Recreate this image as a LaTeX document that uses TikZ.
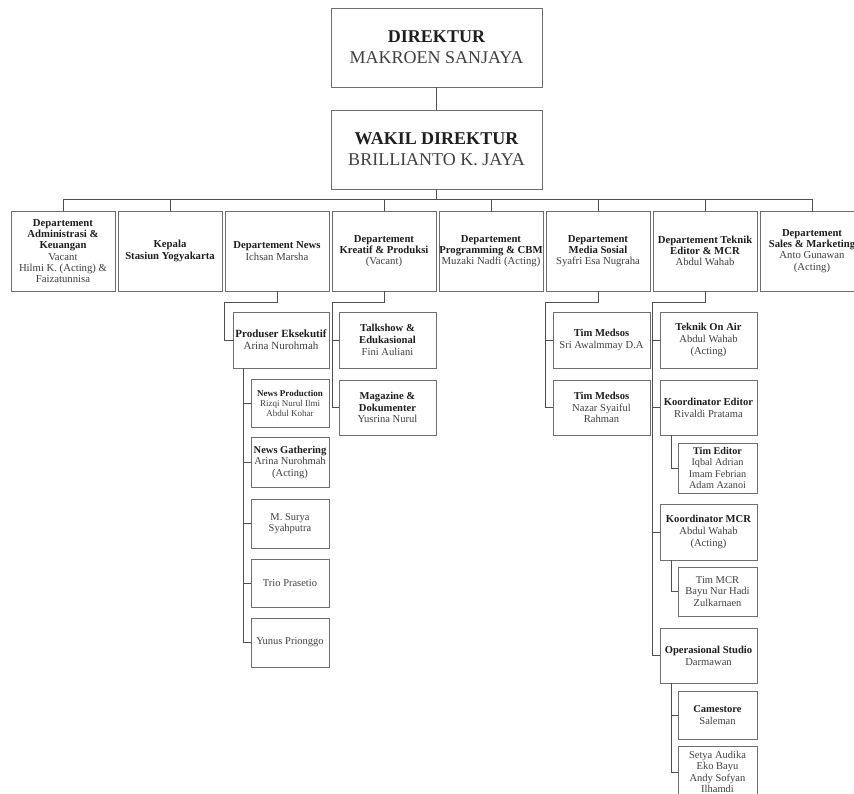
\documentclass[tikz,border=0pt]{standalone}
\usepackage{fontspec}
\setmainfont{Liberation Serif}
\usetikzlibrary{calc}
\definecolor{boxline}{HTML}{6E6E6E}
\definecolor{linkline}{HTML}{505050}
\definecolor{txtdark}{HTML}{1E1E1E}
\definecolor{txtname}{HTML}{404040}
\newcommand{\ttl}[1]{{\bfseries\color{txtdark}#1}}

\begin{document}
\begin{tikzpicture}[x=1pt,y=-1pt,
  box/.style={draw=boxline, line width=0.9pt, fill=white, align=center,
    inner sep=0pt, text=txtname},
  bigbox/.style={box, minimum width=211pt, minimum height=79pt,
    font=\fontsize{18}{21}\selectfont},
  dept/.style={box, minimum width=104pt, minimum height=80pt,
    font=\fontsize{10.7}{11.2}\selectfont},
  unit/.style={box, minimum width=97pt, minimum height=56pt,
    font=\fontsize{10.6}{11.8}\selectfont},
  member/.style={box, minimum width=79pt, minimum height=49pt,
    font=\fontsize{10.5}{11.5}\selectfont},
  link/.style={draw=linkline, line width=0.8pt}]

\useasboundingbox (0,0) rectangle (854,794);
\clip (0,0) rectangle (854,794);

% top management
\node[bigbox] (dir) at (436.5,47.5) {\ttl{DIREKTUR}\\MAKROEN SANJAYA};
\node[bigbox] (wakil) at (436.5,149.5) {\ttl{WAKIL DIREKTUR}\\BRILLIANTO K. JAYA};

% departments
\node[dept] (d1) at (63,251) {\ttl{Departement}\\\ttl{Administrasi \&}\\\ttl{Keuangan}\\Vacant\\Hilmi K. (Acting) \&\\Faizatunnisa};
\node[dept] (d2) at (170,251) {\ttl{Kepala}\\\ttl{Stasiun Yogyakarta}};
\node[dept] (d3) at (277,251) {\ttl{Departement News}\\Ichsan Marsha};
\node[dept] (d4) at (384,251) {\ttl{Departement}\\\ttl{Kreatif \& Produksi}\\(Vacant)};
\node[dept] (d5) at (491,251) {\ttl{Departement}\\\ttl{Programming \& CBM}\\Muzaki Nadfi (Acting)};
\node[dept] (d6) at (598,251) {\ttl{Departement}\\\ttl{Media Sosial}\\Syafri Esa Nugraha};
\node[dept] (d7) at (705,251) {\ttl{Departement Teknik}\\\ttl{Editor \& MCR}\\Abdul Wahab};
\node[dept] (d8) at (812,251) {\ttl{Departement}\\\ttl{Sales \& Marketing}\\Anto Gunawan\\(Acting)};

% news
\node[unit, minimum width=96pt, font=\fontsize{11}{12}\selectfont] (prod) at (281,340) {\ttl{Produser Eksekutif}\\Arina Nurohmah};
\node[member, minimum width=78pt, minimum height=48pt, font=\fontsize{9}{10}\selectfont] (np) at (290,403) {\ttl{News Production}\\Rizqi Nurul Ilmi\\Abdul Kohar};
\node[member, minimum width=78pt, minimum height=50pt] (ng) at (290,462) {\ttl{News Gathering}\\Arina Nurohmah\\(Acting)};
\node[member, minimum width=78pt] (ms) at (290,523.5) {M. Surya\\Syahputra};
\node[member, minimum width=78pt, minimum height=48pt] (trio) at (290,583) {Trio Prasetio};
\node[member, minimum width=78pt] (yunus) at (290,642.5) {Yunus Prionggo};

% kreatif
\node[unit] (talk) at (387.5,340) {\ttl{Talkshow \&}\\\ttl{Edukasional}\\Fini Auliani};
\node[unit, minimum height=55pt] (mag) at (387.5,407.5) {\ttl{Magazine \&}\\\ttl{Dokumenter}\\Yusrina Nurul};

% media sosial
\node[unit] (tm1) at (601.5,340) {\ttl{Tim Medsos}\\Sri Awalmmay D.A};
\node[unit, minimum height=55pt] (tm2) at (601.5,407.5) {\ttl{Tim Medsos}\\Nazar Syaiful\\Rahman};

% teknik
\node[unit] (toa) at (708.5,340) {\ttl{Teknik On Air}\\Abdul Wahab\\(Acting)};
\node[unit, minimum height=55pt] (ke) at (708.5,407.5) {\ttl{Koordinator Editor}\\Rivaldi Pratama};
\node[member, minimum height=50pt, font=\fontsize{10.2}{11.2}\selectfont] (te) at (717.5,468) {\ttl{Tim Editor}\\Iqbal Adrian\\Imam Febrian\\Adam Azanoi};
\node[unit] (kmcr) at (708.5,532) {\ttl{Koordinator MCR}\\Abdul Wahab\\(Acting)};
\node[member] (tmcr) at (717.5,591.5) {Tim MCR\\Bayu Nur Hadi\\Zulkarnaen};
\node[unit, minimum height=55pt] (ops) at (708.5,655.5) {\ttl{Operasional Studio}\\Darmawan};
\node[member, minimum height=48pt] (cam) at (717.5,715) {\ttl{Camestore}\\Saleman};
\node[member, minimum height=52pt] (setya) at (717.5,772) {Setya Audika\\Eko Bayu\\Andy Sofyan\\Ilhamdi};

% top connectors and bus
\draw[link] (dir) -- (wakil);
\coordinate (bus) at (436.5,199);
\draw[link] (wakil.south) -- (bus);
\draw[link] (d1.north) -- (d1.north |- bus) -- (d8.north |- bus) -- (d8.north);
\foreach \d in {d2,d4,d5,d6,d7}
  \draw[link] (\d.north) -- (\d.north |- bus);

% news branch
\draw[link] (d3.south) -- ++(0,11) -| ([xshift=-8pt]prod.west) -- (prod.west);
\coordinate (pv) at ($(prod.south west)+(11,0)$);
\draw[link] (pv) |- (yunus.west);
\foreach \n in {np,ng,ms,trio}
  \draw[link] (\n.west) -- (\n.west -| pv);

% kreatif branch
\draw[link] (d4.south) -- ++(0,11) -| ([xshift=-6pt]mag.west) -- (mag.west);
\draw[link] (talk.west) -- ([xshift=-6pt]talk.west);

% media sosial branch
\draw[link] (d6.south) -- ++(0,11) -| ([xshift=-7pt]tm2.west) -- (tm2.west);
\draw[link] (tm1.west) -- ([xshift=-7pt]tm1.west);

% teknik branch
\draw[link] (d7.south) -- ++(0,11) -| ([xshift=-7.5pt]ops.west) -- (ops.west);
\foreach \n in {toa,ke,kmcr}
  \draw[link] (\n.west) -- ([xshift=-7.5pt]\n.west);
\draw[link] ($(ke.south west)+(11.5,0)$) |- (te.west);
\draw[link] ($(kmcr.south west)+(11.5,0)$) |- (tmcr.west);
\coordinate (ov) at ($(ops.south west)+(11.5,0)$);
\draw[link] (ov) |- (setya.west);
\draw[link] (cam.west) -- (cam.west -| ov);
\end{tikzpicture}
\end{document}
